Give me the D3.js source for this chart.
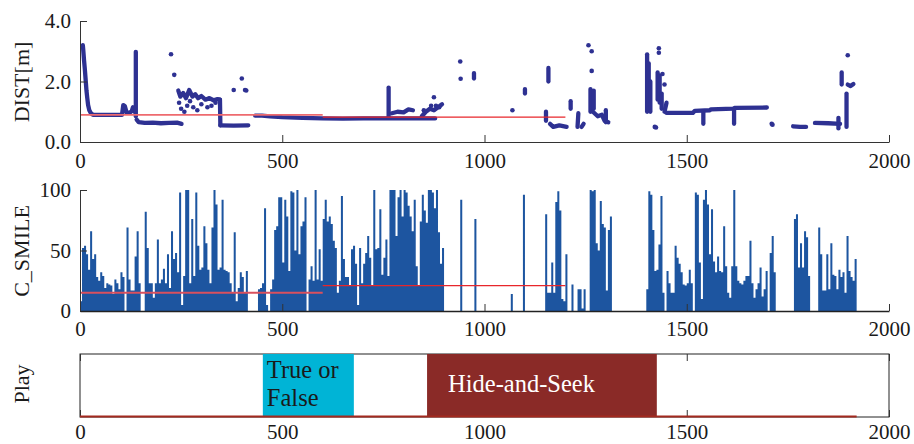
<!DOCTYPE html>
<html><head><meta charset="utf-8">
<script src="https://cdn.jsdelivr.net/npm/d3@7"></script>
<style>body{margin:0;background:#fff}svg{display:block}text{font-family:"Liberation Serif","Times New Roman",serif}</style>
</head><body><svg id="c" width="914" height="444"></svg>
<script>
// ---------- data ----------
const xTicks = [0, 500, 1000, 1500, 2000];
const distTicks = [0, 2, 4];
const smileTicks = [0, 50, 100];

// dense DIST runs (time, metres)
const distTraces = [
 [[7,3.2],[8,3.05],[10,2.7],[12,2.4],[14,2.05],[16,1.7],[18,1.45],[20,1.22],[23,1.05],[27,0.95],[32,0.9],[70,0.9],[104,0.9]],
 [[104,0.92],[107,1.22],[111,1.18],[115,0.98],[122,0.96],[128,1.02],[131,1.15],[135,1.0]],
 [[138,2.98],[138,0.85]],
 [[140,0.74],[145,0.66],[160,0.63],[180,0.64],[200,0.62],[220,0.63],[240,0.64],[251,0.6]],
 [[243,1.7],[248,1.5],[255,1.62],[262,1.45],[270,1.72],[278,1.5],[285,1.58],[292,1.45],[300,1.52],[310,1.4],[320,1.45],[330,1.38],[340,1.42],[346,1.4]],
 [[346,1.4],[347,0.55]],
 [[347,0.55],[380,0.54],[416,0.55]],
 [[433,0.87],[450,0.87],[470,0.85],[500,0.82],[550,0.8],[600,0.78],[650,0.77],[700,0.78],[760,0.78],[820,0.78],[878,0.78]],
 [[763,1.8],[763,0.8]],
 [[771,0.95],[785,1.0],[800,0.98],[812,1.08],[823,1.05]],
 [[845,0.85],[855,1.0],[865,1.1],[875,1.05],[885,1.15],[895,1.25]],
 [[974,2.1],[974,2.28]],
 [[1100,1.6],[1100,1.75]],
 [[1152,0.7],[1152,1.0]],
 [[1158,2.0],[1158,2.45]],
 [[1162,0.6],[1170,0.5],[1185,0.55],[1203,0.5]],
 [[1213,1.1],[1213,1.35]],
 [[1230,0.5],[1232,0.95]],
 [[1240,0.5],[1245,0.6]],
 [[1262,1.75],[1262,1.0]],
 [[1270,1.7],[1270,1.1]],
 [[1268,1.0],[1280,0.85],[1290,0.9],[1297,0.7],[1306,0.65]],
 [[1300,1.05],[1300,0.65]],
 [[1402,1.0],[1402,2.9]],
 [[1406,1.1],[1406,2.6]],
 [[1410,1.0],[1410,2.0]],
 [[1428,1.4],[1428,2.3]],
 [[1433,1.3],[1433,2.2]],
 [[1438,1.1],[1438,1.6]],
 [[1445,1.0],[1450,1.3]],
 [[1450,0.96],[1515,0.96],[1520,1.03],[1557,1.05],[1560,1.08],[1615,1.1],[1620,1.13],[1698,1.14]],
 [[1541,1.0],[1541,0.6]],
 [[1617,1.1],[1617,0.6]],
 [[1763,0.52],[1780,0.5],[1795,0.5]],
 [[1817,0.63],[1850,0.62],[1879,0.6]],
 [[1875,0.45],[1875,0.8]],
 [[1883,1.9],[1883,2.3]],
 [[1895,0.5],[1895,1.6]],
 [[1898,1.9],[1905,1.85],[1912,1.92]]
];
// isolated DIST samples
const distDots = [[225,2.9],[233,2.22],[250,1.1],[258,1.0],[265,1.2],[280,1.15],[290,1.05],[300,1.25],[315,1.15],[325,1.2],[335,1.3],[245,1.3],[272,1.35],[380,1.72],[400,2.1],[408,1.72],[411,1.7],[850,1.05],[868,1.2],[875,1.48],[880,1.2],[888,1.15],[940,2.66],[941,2.09],[1069,1.05],[1257,3.2],[1265,3.0],[1265,2.35],[1421,0.5],[1424,0.48],[1431,3.1],[1431,2.95],[1440,2.25],[1445,1.9],[1710,0.6],[1712,0.57],[1898,2.87]];

// C_SMILE sampled every 5 time units from 0
const smileStart = 0, smileStep = 5;
const smileValues = [
 8,52,54,47,34,66,43,47,28,25,32,29,19,23,22,21,14,26,23,18,
 32,28,0,69,26,17,17,45,66,23,0,0,82,52,23,23,11,23,59,23,
 26,35,23,47,19,66,43,48,32,98,5,29,100,100,23,76,29,98,54,34,
 36,70,56,34,23,69,100,88,34,36,92,34,33,32,23,15,65,8,19,32,
 28,15,33,0,0,0,0,0,18,19,23,85,5,0,18,26,67,70,94,94,
 40,92,78,33,99,98,50,100,47,70,74,94,0,26,37,25,100,26,51,25,
 76,92,74,78,72,58,52,15,25,95,43,28,28,21,51,54,39,5,52,23,
 39,48,62,44,21,100,51,52,84,30,44,59,29,100,100,100,62,94,100,78,
 100,98,87,78,66,92,37,21,74,96,83,73,100,100,98,85,100,65,39,52,
 0,0,0,0,0,0,0,0,92,0,0,0,0,0,0,76,0,0,0,0,
 0,0,0,0,0,0,0,0,0,0,0,0,0,14,0,0,0,0,0,96,
 0,0,0,0,0,0,0,0,0,0,80,15,15,40,15,90,99,83,10,8,
 47,0,0,22,0,0,18,18,2,18,0,0,100,99,100,56,50,91,72,69,
 17,67,78,0,0,0,0,0,0,0,0,0,0,0,0,0,0,0,0,0,
 18,99,96,67,33,34,55,95,15,0,33,23,15,15,54,44,39,32,22,21,
 23,34,23,0,98,96,40,10,92,100,88,47,84,41,32,45,33,32,70,37,
 15,11,37,100,37,25,23,22,25,29,29,58,23,11,18,23,36,12,18,33,
 0,48,62,32,0,0,0,0,0,0,0,0,0,76,80,36,56,36,66,61,
 29,0,0,0,0,69,47,17,17,47,18,56,30,29,18,34,28,32,15,62,
 33,28,25,43,0
];

// per-phase means (red lines)
const distMeans = [{x0:0, x1:600, v:0.9}, {x0:600, x1:1200, v:0.82}];
const smileMeans = [{x0:0, x1:600, v:15}, {x0:600, x1:1200, v:21}];

// play phases
const playNames = [["True or","False"], ["Hide-and-Seek"]];
const playStart = [452, 858];
const playEnd = [677, 1426];
const playLineRange = [0, 1920];

// ---------- drawing ----------
const svg = d3.select("#c");
const FONT = 21, INK = "#1a1a1a", AX = "#333";
const SERIF = '"Liberation Serif","Times New Roman",serif';
const x = d3.scaleLinear().domain([0, 2000]).range([80, 889]);
const yD = d3.scaleLinear().domain([0, 4]).range([142, 21]);
const yS = d3.scaleLinear().domain([0, 100]).range([311, 190]);

function styleAxis(g) {
  g.attr("font-family", SERIF).attr("font-size", FONT);
  g.selectAll(".domain").attr("stroke", AX).attr("stroke-width", 1);
  g.selectAll(".tick line").attr("stroke", AX);
  g.selectAll(".tick text").attr("font-size", FONT).attr("fill", INK).attr("font-family", SERIF);
}
function bottomAxis(y, pad) {
  const g = svg.append("g").attr("transform", `translate(0,${y})`)
    .call(d3.axisBottom(x).tickValues(xTicks).tickSizeInner(-7).tickSizeOuter(0)
      .tickPadding(pad).tickFormat(d3.format("d")));
  styleAxis(g);
  return g;
}
function leftAxis(scale, ticks, fmt) {
  const g = svg.append("g").attr("transform", "translate(80,0)")
    .call(d3.axisLeft(scale).tickValues(ticks).tickSizeInner(-7).tickSizeOuter(0)
      .tickPadding(9).tickFormat(fmt));
  styleAxis(g);
}
function yLabel(text, cy) {
  svg.append("text").attr("transform", `translate(29,${cy}) rotate(-90)`)
    .attr("text-anchor", "middle").attr("font-size", FONT + 1).attr("fill", INK).text(text);
}

// --- top panel: DIST ---
const PT = "#2e3192";
const line = d3.line().x(d => x(d[0])).y(d => yD(d[1]));
svg.append("g").selectAll("path").data(distTraces).join("path")
  .attr("d", line).attr("fill", "none").attr("stroke", PT)
  .attr("stroke-width", 4.3).attr("stroke-linecap", "round").attr("stroke-linejoin", "round");
svg.append("g").selectAll("circle").data(distDots).join("circle")
  .attr("cx", d => x(d[0])).attr("cy", d => yD(d[1])).attr("r", 2.3).attr("fill", PT);
svg.append("g").selectAll("line").data(distMeans).join("line")
  .attr("x1", d => x(d.x0)).attr("x2", d => x(d.x1))
  .attr("y1", d => yD(d.v)).attr("y2", d => yD(d.v))
  .attr("stroke", (d, i) => i === 0 ? "#ee6a6e" : "#e8262b")
  .attr("stroke-width", (d, i) => i === 0 ? 1.8 : 1.3);
leftAxis(yD, distTicks, d3.format(".1f"));
bottomAxis(142, 11);
yLabel("DIST[m]", 82);

// --- middle panel: C_SMILE ---
const smile = smileValues.map((v, i) => [smileStart + i * smileStep, v]);
const area = d3.area().curve(d3.curveStepAfter)
  .x(d => x(d[0])).y0(yS(0)).y1(d => yS(d[1]));
svg.append("path").datum(smile).attr("d", area).attr("fill", "#1d55a0");
svg.append("g").selectAll("line").data(smileMeans).join("line")
  .attr("x1", d => x(d.x0)).attr("x2", d => x(d.x1))
  .attr("y1", d => yS(d.v)).attr("y2", d => yS(d.v))
  .attr("stroke", (d, i) => i === 0 ? "#d9505e" : "#e8262b")
  .attr("stroke-width", (d, i) => i === 0 ? 2 : 1.3);
leftAxis(yS, smileTicks, d3.format("d"));
const mb = bottomAxis(311, 10);
mb.select(".domain").attr("stroke", "#222").attr("stroke-width", 1.6);
yLabel("C_SMILE", 251);

// --- bottom panel: Play ---
const pTop = 354, pBot = 417;
svg.append("rect").attr("x", x(0)).attr("y", pTop).attr("width", x(2000) - x(0))
  .attr("height", pBot - pTop).attr("fill", "#fff").attr("stroke", "#222").attr("stroke-width", 1);
const ta = svg.append("g").attr("transform", `translate(0,${pTop})`)
  .call(d3.axisTop(x).tickValues(xTicks).tickSizeInner(-7).tickSizeOuter(0).tickFormat(""));
styleAxis(ta); ta.select(".domain").remove();
const ba = bottomAxis(pBot, 7); ba.select(".domain").remove();
const playColor = ["#00b4d6", "#8a2a27"];
const playText = ["#1a1a1a", "#ffffff"];
const gp = svg.append("g");
playStart.forEach((s, i) => {
  gp.append("rect").attr("x", x(s)).attr("y", pTop).attr("width", x(playEnd[i]) - x(s))
    .attr("height", pBot - pTop).attr("fill", playColor[i]);
});
gp.append("text").attr("x", x(playStart[0]) + 4).attr("y", 378).attr("font-size", 24.5)
  .attr("fill", playText[0]).text(playNames[0][0]);
gp.append("text").attr("x", x(playStart[0]) + 4).attr("y", 406).attr("font-size", 24.5)
  .attr("fill", playText[0]).text(playNames[0][1]);
gp.append("text").attr("x", x(playStart[1]) + 21).attr("y", 392).attr("font-size", 24.5)
  .attr("fill", playText[1]).text(playNames[1][0]);
svg.append("line").attr("x1", x(playLineRange[0])).attr("x2", x(playLineRange[1]))
  .attr("y1", pBot - 0.5).attr("y2", pBot - 0.5).attr("stroke", "#a3291f").attr("stroke-width", 2);
yLabel("Play", 384);
</script></body></html>
